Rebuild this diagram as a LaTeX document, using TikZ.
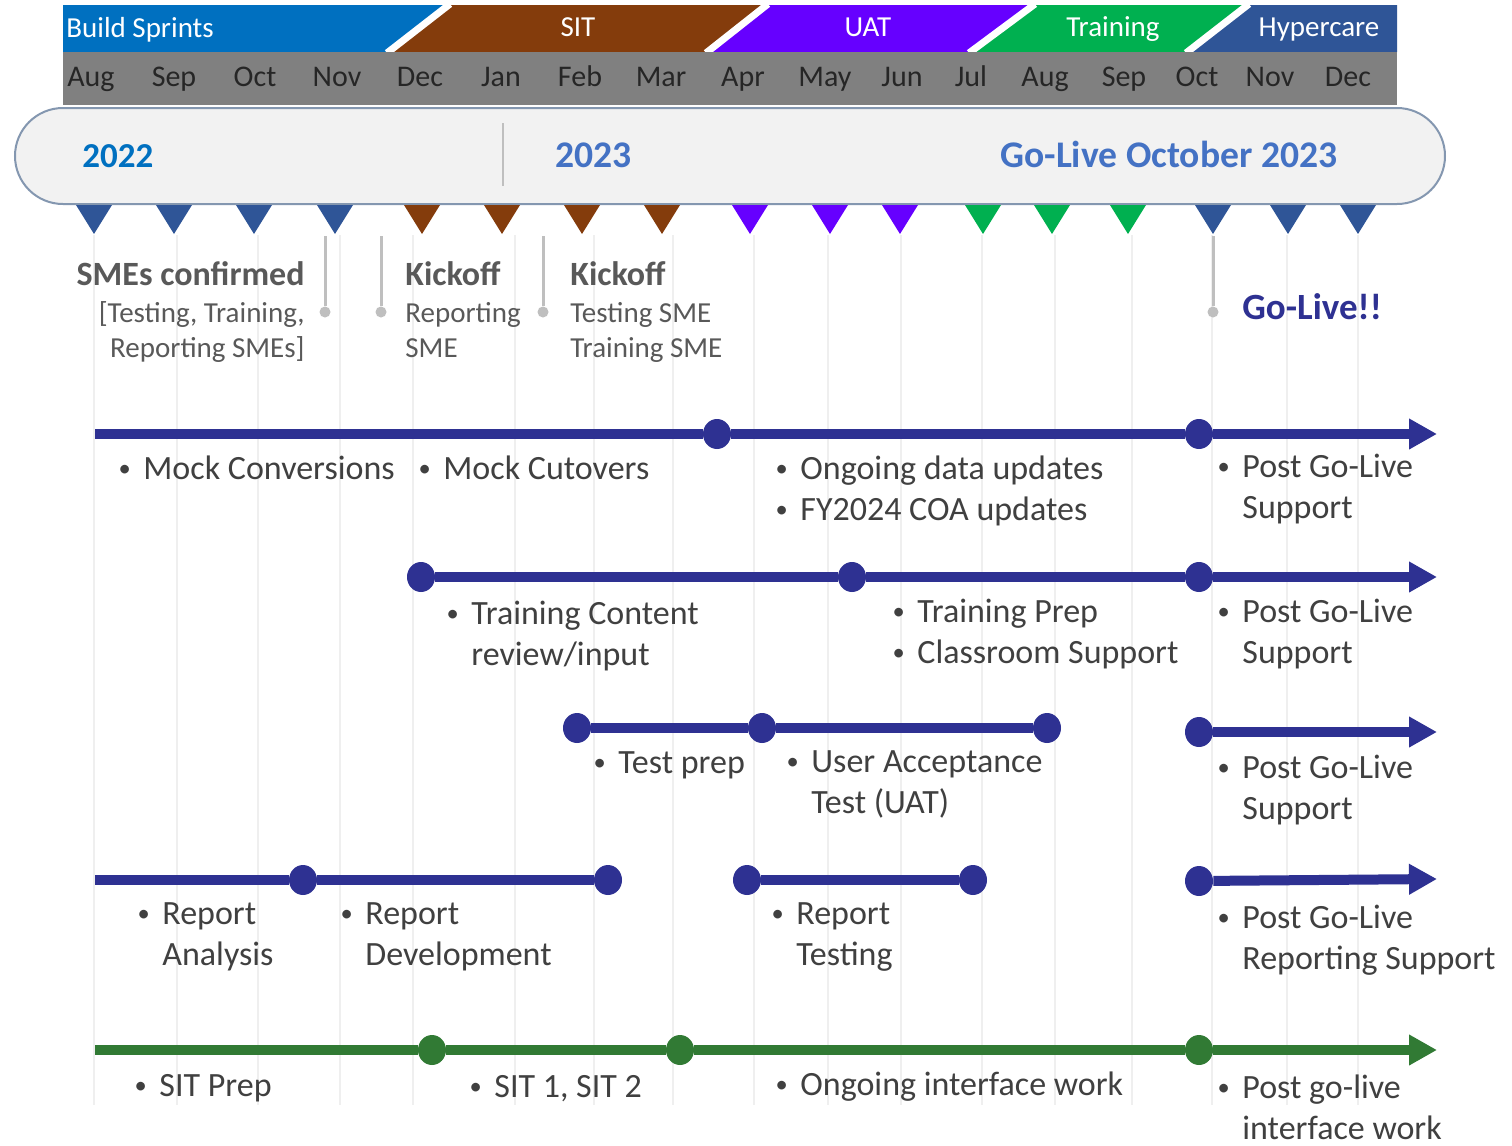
\documentclass[tikz,border=0pt]{standalone}
\usepackage{fontspec}
\setmainfont{Carlito}
\usepackage{xcolor}
\usetikzlibrary{shapes.geometric,arrows.meta,positioning,calc}
\definecolor{sprintblue}{RGB}{0,112,192}
\definecolor{sitbrown}{RGB}{132,60,12}
\definecolor{uatpurple}{RGB}{102,0,255}
\definecolor{traingreen}{RGB}{0,176,80}
\definecolor{careblue}{RGB}{47,85,151}
\definecolor{monthgray}{RGB}{128,128,128}
\definecolor{bandfill}{RGB}{242,242,242}
\definecolor{bandline}{RGB}{132,151,176}
\definecolor{yearblue}{RGB}{68,114,196}
\definecolor{navy}{RGB}{46,49,146}
\definecolor{ifgreen}{RGB}{49,122,52}
\definecolor{bodygray}{RGB}{64,64,64}
\definecolor{msgray}{RGB}{89,89,89}
\definecolor{linkgray}{RGB}{191,191,191}
\definecolor{gridgray}{RGB}{239,239,239}
\newcommand{\tlbullet}{\strut\makebox[13.75pt][l]{\hspace*{1.3pt}\raisebox{1.6pt}{\scalebox{0.72}{\textbullet}}}}
\newcommand{\tlindent}{\hspace*{13.75pt}}

\begin{document}
\begin{tikzpicture}[x=0.5pt,y=-0.5pt,
  phaselbl/.style={anchor=base,inner sep=0pt,text=white,font=\fontsize{14.5}{17}\selectfont},
  monthlbl/.style={anchor=base,inner sep=0pt,text=black!85,font=\fontsize{15}{18}\selectfont},
  yearlbl/.style={anchor=base west,inner sep=0pt,font=\fontsize{18.8}{22}\selectfont\bfseries},
  navyline/.style={draw=navy,line width=5pt},
  greenline/.style={draw=ifgreen,line width=5pt},
  arrowend/.style={-{Triangle[length=14pt,width=14.5pt]}},
  navydot/.style={ellipse,fill=navy,minimum width=14pt,minimum height=15pt,inner sep=0pt},
  greendot/.style={ellipse,fill=ifgreen,minimum width=14pt,minimum height=15pt,inner sep=0pt},
  item/.style={anchor=north west,xshift=-13.75pt,yshift=14.525pt,inner sep=0pt,align=left,
    text=bodygray,font=\fontsize{17}{20.75}\selectfont},
  mshead/.style={text=msgray,inner sep=0pt,font=\fontsize{17}{20}\selectfont\bfseries},
  msbody/.style={text=msgray,inner sep=0pt,yshift=12.25pt,font=\fontsize{14.5}{17.5}\selectfont},
  mslink/.style={draw=linkgray,line width=1.5pt},
  msdot/.style={circle,fill=linkgray,minimum size=5.5pt,inner sep=0pt}]

  \useasboundingbox (0,0) rectangle (1512,1146);
  \fill[white] (0,0) rectangle (1512,1146);

  % Grid lines
  \foreach \x in {94,177,258,340,413,515,594,673,754,828,901,982,1055,1132,1212,1287,1358} {
    \draw[gridgray,line width=0.6pt] (\x,235) -- (\x,1105);
  }

  % Year band
  \draw[draw=bandline,fill=bandfill,line width=1pt,rounded corners=24pt] (15,108) rectangle (1445,204);
  \draw[linkgray,line width=0.8pt] (503,123) -- (503,186);
  \node[yearlbl,text=sprintblue,font=\fontsize{17.5}{21}\selectfont\bfseries] (y22) at (82,167) {2022};
  \node[yearlbl,text=yearblue] (y23) at (555,167) {2023};
  \node[yearlbl,text=yearblue] (golivedate) at (1000,167) {Go-Live October 2023};

  % Phases
  \fill[sprintblue] (63,5) -- (450,5) -- (387,52) -- (63,52) -- cycle;
  \fill[sitbrown] (450,5) -- (768,5) -- (706,52) -- (387,52) -- cycle;
  \fill[uatpurple] (768,5) -- (1035,5) -- (969,52) -- (706,52) -- cycle;
  \fill[traingreen] (1035,5) -- (1249,5) -- (1186,52) -- (969,52) -- cycle;
  \fill[careblue] (1249,5) -- (1397,5) -- (1397,52) -- (1186,52) -- cycle;
  \foreach \t/\b in {450/387,768/706,1035/969,1249/1186} {
    \draw[white,line width=3.5pt] (\t,4) -- (\b,53);
  }
  \node[phaselbl,anchor=base west] (sprints) at (66,37) {Build Sprints};
  \node[phaselbl] (sit) at (578,36) {SIT};
  \node[phaselbl] (uat) at (868,36) {UAT};
  \node[phaselbl] (training) at (1113,36) {Training};
  \node[phaselbl] (hypercare) at (1319,36) {Hypercare};

  % Months
  \fill[monthgray] (63,52) rectangle (1397,105);
  \foreach \x/\m in {91/Aug,174/Sep,255/Oct,337/Nov,420/Dec,501/Jan,580/Feb,661/Mar,743/Apr,
                     825/May,902/Jun,971/Jul,1045/Aug,1124/Sep,1197/Oct,1270/Nov,1348/Dec} {
    \node[monthlbl] (m\x) at (\x,86) {\m};
  }

  % Month markers
  \foreach \x/\c in {94/careblue,174/careblue,254/careblue,335/careblue,
                     422/sitbrown,502/sitbrown,582/sitbrown,662/sitbrown,
                     750/uatpurple,830/uatpurple,900/uatpurple,
                     983/traingreen,1052/traingreen,1128/traingreen,
                     1213/careblue,1288/careblue,1358/careblue} {
    \fill[\c] (\x-18,205) -- (\x+18,205) -- (\x,234) -- cycle;
  }

  % Milestones
  \foreach \n/\x in {1/325,2/381,3/543,4/1213} {
    \coordinate (ms\n top) at (\x,236);
    \node[msdot] (ms\n) at (\x,312) {};
    \draw[mslink] (ms\n top) -- (ms\n);
  }
  \node[mshead,anchor=base east] (smehead) at (305,285) {SMEs confirmed};
  \node[msbody,anchor=north east,align=right] (smebody) at (305,322) {\strut[Testing, Training,\\Reporting SMEs]};
  \node[mshead,anchor=base west] (rpkick) at (405,285) {Kickoff};
  \node[msbody,anchor=north west,align=left] (rpkickbody) at (405,322) {\strut Reporting\\SME};
  \node[mshead,anchor=base west] (tskick) at (570,285) {Kickoff};
  \node[msbody,anchor=north west,align=left] (tskickbody) at (570,322) {\strut Testing SME\\Training SME};
  \node[anchor=base west,inner sep=0pt,text=navy,font=\fontsize{18.5}{22}\selectfont\bfseries] (golive) at (1242,319) {Go-Live!!};

  % Data conversion
  \coordinate (dc0) at (95,434);
  \node[navydot] (dc1) at (717,434) {};
  \node[navydot] (dc2) at (1199,434) {};
  \coordinate (dc3) at (1437,434);
  \draw[navyline] (dc0) -- (dc1) -- (dc2);
  \draw[navyline,arrowend] (dc2) -- (dc3);
  \node[item] (dctxt1) at (143,479) {\tlbullet Mock Conversions};
  \node[item] (dctxt2) at (443,479) {\tlbullet Mock Cutovers};
  \node[item] (dctxt3) at (800,479) {\tlbullet Ongoing data updates\\\tlbullet FY2024 COA updates};
  \node[item] (dctxt4) at (1242,477) {\tlbullet Post Go-Live\\\tlindent Support};

  % Training
  \node[navydot] (tr0) at (421,577) {};
  \node[navydot] (tr1) at (852,577) {};
  \node[navydot] (tr2) at (1199,577) {};
  \coordinate (tr3) at (1437,577);
  \draw[navyline] (tr0) -- (tr1) -- (tr2);
  \draw[navyline,arrowend] (tr2) -- (tr3);
  \node[item] (trtxt1) at (471,624) {\tlbullet Training Content\\\tlindent review/input};
  \node[item] (trtxt2) at (917,622) {\tlbullet Training Prep\\\tlbullet Classroom Support};
  \node[item] (trtxt3) at (1242,622) {\tlbullet Post Go-Live\\\tlindent Support};

  % Testing
  \node[navydot] (ua0) at (577,728) {};
  \node[navydot] (ua1) at (762,728) {};
  \node[navydot] (ua2) at (1047,728) {};
  \draw[navyline] (ua0) -- (ua1) -- (ua2);
  \node[navydot] (ua3) at (1199,732) {};
  \coordinate (ua4) at (1437,732);
  \draw[navyline,arrowend] (ua3) -- (ua4);
  \node[item] (uatxt1) at (618,773) {\tlbullet Test prep};
  \node[item] (uatxt2) at (811,772) {\tlbullet User Acceptance\\\tlindent Test (UAT)};
  \node[item] (uatxt3) at (1242,778) {\tlbullet Post Go-Live\\\tlindent Support};

  % Reporting
  \coordinate (rp0) at (95,880);
  \node[navydot] (rp1) at (303,880) {};
  \node[navydot] (rp2) at (608,880) {};
  \draw[navyline] (rp0) -- (rp1) -- (rp2);
  \node[navydot] (rp3) at (747,880) {};
  \node[navydot] (rp4) at (973,880) {};
  \draw[navyline] (rp3) -- (rp4);
  \node[navydot] (rp5) at (1199,881) {};
  \coordinate (rp6) at (1437,879);
  \draw[navyline,arrowend] (rp5) -- (rp6);
  \node[item] (rptxt1) at (162,924) {\tlbullet Report\\\tlindent Analysis};
  \node[item] (rptxt2) at (365,924) {\tlbullet Report\\\tlindent Development};
  \node[item] (rptxt3) at (796,924) {\tlbullet Report\\\tlindent Testing};
  \node[item] (rptxt4) at (1242,928) {\tlbullet Post Go-Live\\\tlindent Reporting Support};

  % Interfaces
  \coordinate (if0) at (95,1050);
  \node[greendot] (if1) at (432,1050) {};
  \node[greendot] (if2) at (680,1050) {};
  \node[greendot] (if3) at (1199,1050) {};
  \coordinate (if4) at (1437,1050);
  \draw[greenline] (if0) -- (if1) -- (if2) -- (if3);
  \draw[greenline,arrowend] (if3) -- (if4);
  \node[item] (iftxt1) at (159,1096) {\tlbullet SIT Prep};
  \node[item] (iftxt2) at (494,1097) {\tlbullet SIT 1, SIT 2};
  \node[item] (iftxt3) at (800,1095) {\tlbullet Ongoing interface work};
  \node[item] (iftxt4) at (1242,1098) {\tlbullet Post go-live\\\tlindent interface work};

\end{tikzpicture}
\end{document}
